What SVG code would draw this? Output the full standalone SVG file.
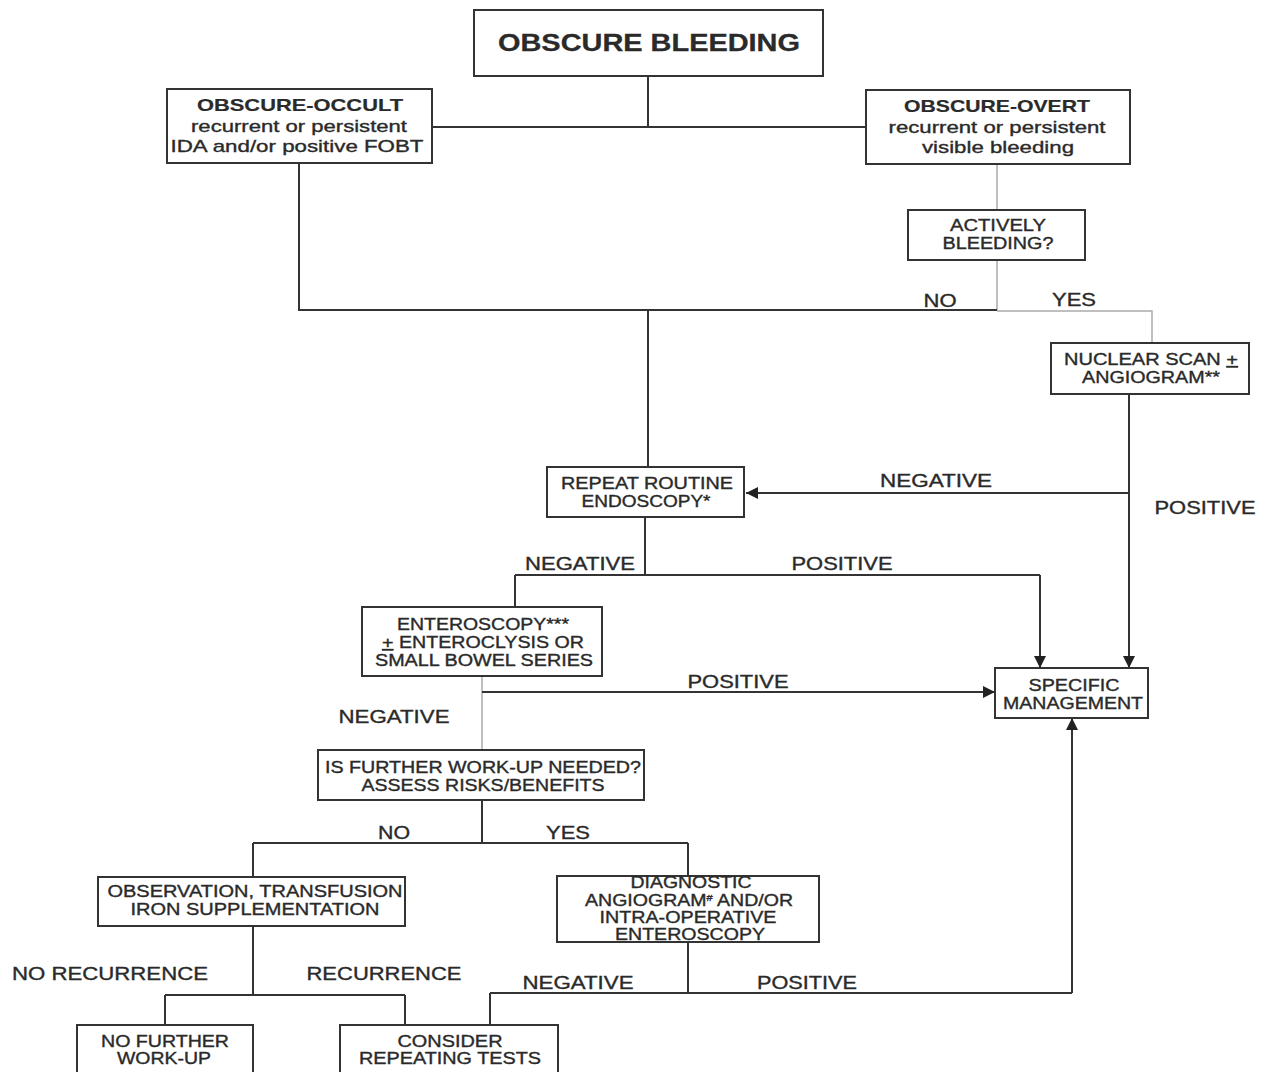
<svg xmlns="http://www.w3.org/2000/svg" width="1265" height="1072" viewBox="0 0 1265 1072">
<style>
.box{fill:#fff;stroke:#333;stroke-width:2}
.ln{fill:none;stroke:#333;stroke-width:2}
.lg{fill:none;stroke:#aaa;stroke-width:1.5}
text{font-family:"Liberation Sans",Arial,sans-serif;fill:#2a2a2a;stroke:#2a2a2a;stroke-width:0.35;text-anchor:middle}
.t{font-size:16px}
.l{font-size:18px}
.h{font-size:17px}
.b{font-weight:bold;stroke-width:0.2}
.title{font-size:23px;font-weight:bold;stroke-width:0.3}
</style>
<defs>
<marker id="ar" viewBox="0 0 10 10" refX="10" refY="5" markerWidth="12" markerHeight="12" orient="auto" markerUnits="userSpaceOnUse">
<path d="M0,0 L10,5 L0,10 z" fill="#222"/>
</marker>
</defs>
<rect width="1265" height="1072" fill="#fff"/>
<g id="connectors">
<path class="ln" d="M648,76 V127 M432,127 H866"/>
<path class="lg" d="M997,164 V210"/>
<path class="lg" d="M997,260 V310"/>
<path class="ln" d="M299,163 V310 H997"/>
<path class="lg" d="M997,311 H1152 V343"/>
<path class="ln" d="M648,310 V467"/>
<path class="ln" d="M1129,394 V668" marker-end="url(#ar)"/>
<path class="ln" d="M1129,493 H746" marker-end="url(#ar)"/>
<path class="ln" d="M645,517 V575 M515,575 H1040 M515,575 V607"/>
<path class="ln" d="M1040,575 V668" marker-end="url(#ar)"/>
<path class="lg" d="M482,676 V750"/>
<path class="ln" d="M482,692 H995" marker-end="url(#ar)"/>
<path class="ln" d="M482,800 V843 M253,843 H688 M253,843 V877 M688,843 V876"/>
<path class="ln" d="M253,926 V995 M165,995 H405 M165,995 V1025 M405,995 V1025"/>
<path class="ln" d="M688,942 V993 M490,993 H1072 M490,993 V1025"/>
<path class="ln" d="M1072,993 V718" marker-end="url(#ar)"/>
</g>
<g id="labels">
<text class="l" x="940" y="307" textLength="33" lengthAdjust="spacingAndGlyphs">NO</text>
<text class="l" x="1074" y="306" textLength="44" lengthAdjust="spacingAndGlyphs">YES</text>
<text class="l" x="936" y="487" textLength="112" lengthAdjust="spacingAndGlyphs">NEGATIVE</text>
<text class="l" x="1205" y="514" textLength="101" lengthAdjust="spacingAndGlyphs">POSITIVE</text>
<text class="l" x="580" y="570" textLength="110" lengthAdjust="spacingAndGlyphs">NEGATIVE</text>
<text class="l" x="842" y="570" textLength="101" lengthAdjust="spacingAndGlyphs">POSITIVE</text>
<text class="l" x="738" y="688" textLength="101" lengthAdjust="spacingAndGlyphs">POSITIVE</text>
<text class="l" x="394" y="723" textLength="111" lengthAdjust="spacingAndGlyphs">NEGATIVE</text>
<text class="l" x="394" y="839" textLength="32" lengthAdjust="spacingAndGlyphs">NO</text>
<text class="l" x="568" y="839" textLength="44" lengthAdjust="spacingAndGlyphs">YES</text>
<text class="l" x="110" y="980" textLength="196" lengthAdjust="spacingAndGlyphs">NO RECURRENCE</text>
<text class="l" x="384" y="980" textLength="155" lengthAdjust="spacingAndGlyphs">RECURRENCE</text>
<text class="l" x="578" y="989" textLength="111" lengthAdjust="spacingAndGlyphs">NEGATIVE</text>
<text class="l" x="807" y="989" textLength="100" lengthAdjust="spacingAndGlyphs">POSITIVE</text>
</g>
<g id="n-obscure-bleeding">
<rect class="box" x="474" y="10" width="349" height="66"/>
<text class="title" x="649" y="51" textLength="302" lengthAdjust="spacingAndGlyphs">OBSCURE BLEEDING</text>
</g>
<g id="n-occult">
<rect class="box" x="167" y="89" width="265" height="74"/>
<text class="h b" x="300" y="111" textLength="206" lengthAdjust="spacingAndGlyphs">OBSCURE-OCCULT</text>
<text class="h" x="299" y="132" textLength="216" lengthAdjust="spacingAndGlyphs">recurrent or persistent</text>
<text class="h" x="297" y="152" textLength="253" lengthAdjust="spacingAndGlyphs">IDA and/or positive FOBT</text>
</g>
<g id="n-overt">
<rect class="box" x="866" y="90" width="264" height="74"/>
<text class="h b" x="997" y="112" textLength="186" lengthAdjust="spacingAndGlyphs">OBSCURE-OVERT</text>
<text class="h" x="997" y="133" textLength="217" lengthAdjust="spacingAndGlyphs">recurrent or persistent</text>
<text class="h" x="998" y="153" textLength="152" lengthAdjust="spacingAndGlyphs">visible bleeding</text>
</g>
<g id="n-actively">
<rect class="box" x="908" y="210" width="177" height="50"/>
<text class="t" x="998" y="231" textLength="96" lengthAdjust="spacingAndGlyphs">ACTIVELY</text>
<text class="t" x="998" y="249" textLength="111" lengthAdjust="spacingAndGlyphs">BLEEDING?</text>
</g>
<g id="n-nuclear">
<rect class="box" x="1051" y="343" width="198" height="51"/>
<text class="t" x="1151" y="365" textLength="174" lengthAdjust="spacingAndGlyphs">NUCLEAR SCAN <tspan text-decoration="underline">+</tspan></text>
<text class="t" x="1151" y="383" textLength="138" lengthAdjust="spacingAndGlyphs">ANGIOGRAM**</text>
</g>
<g id="n-repeat">
<rect class="box" x="547" y="467" width="197" height="50"/>
<text class="t" x="647" y="489" textLength="172" lengthAdjust="spacingAndGlyphs">REPEAT ROUTINE</text>
<text class="t" x="646" y="507" textLength="129" lengthAdjust="spacingAndGlyphs">ENDOSCOPY*</text>
</g>
<g id="n-enteroscopy">
<rect class="box" x="362" y="607" width="240" height="69"/>
<text class="t" x="483" y="630" textLength="172" lengthAdjust="spacingAndGlyphs">ENTEROSCOPY***</text>
<text class="t" x="483" y="648" textLength="202" lengthAdjust="spacingAndGlyphs"><tspan text-decoration="underline">+</tspan> ENTEROCLYSIS OR</text>
<text class="t" x="484" y="666" textLength="218" lengthAdjust="spacingAndGlyphs">SMALL BOWEL SERIES</text>
</g>
<g id="n-specific">
<rect class="box" x="995" y="668" width="153" height="50"/>
<text class="t" x="1074" y="691" textLength="91" lengthAdjust="spacingAndGlyphs">SPECIFIC</text>
<text class="t" x="1073" y="709" textLength="140" lengthAdjust="spacingAndGlyphs">MANAGEMENT</text>
</g>
<g id="n-further">
<rect class="box" x="318" y="750" width="326" height="50"/>
<text class="t" x="483" y="773" textLength="316" lengthAdjust="spacingAndGlyphs">IS FURTHER WORK-UP NEEDED?</text>
<text class="t" x="483" y="791" textLength="243" lengthAdjust="spacingAndGlyphs">ASSESS RISKS/BENEFITS</text>
</g>
<g id="n-observation">
<rect class="box" x="98" y="877" width="307" height="49"/>
<text class="t" x="255" y="897" textLength="295" lengthAdjust="spacingAndGlyphs">OBSERVATION, TRANSFUSION</text>
<text class="t" x="255" y="915" textLength="249" lengthAdjust="spacingAndGlyphs">IRON SUPPLEMENTATION</text>
</g>
<g id="n-diagnostic">
<rect class="box" x="557" y="876" width="262" height="66"/>
<text class="t" x="691" y="888" textLength="121" lengthAdjust="spacingAndGlyphs">DIAGNOSTIC</text>
<text class="t" x="689" y="906" textLength="208" lengthAdjust="spacingAndGlyphs">ANGIOGRAM<tspan font-size="9" dy="-5">#</tspan><tspan dy="5"> AND/OR</tspan></text>
<text class="t" x="688" y="923" textLength="177" lengthAdjust="spacingAndGlyphs">INTRA-OPERATIVE</text>
<text class="t" x="690" y="940" textLength="150" lengthAdjust="spacingAndGlyphs">ENTEROSCOPY</text>
</g>
<g id="n-no-further">
<rect class="box" x="77" y="1025" width="176" height="60"/>
<text class="t" x="165" y="1047" textLength="128" lengthAdjust="spacingAndGlyphs">NO FURTHER</text>
<text class="t" x="164" y="1064" textLength="94" lengthAdjust="spacingAndGlyphs">WORK-UP</text>
</g>
<g id="n-consider">
<rect class="box" x="340" y="1025" width="218" height="60"/>
<text class="t" x="450" y="1047" textLength="105" lengthAdjust="spacingAndGlyphs">CONSIDER</text>
<text class="t" x="450" y="1064" textLength="182" lengthAdjust="spacingAndGlyphs">REPEATING TESTS</text>
</g>
</svg>
